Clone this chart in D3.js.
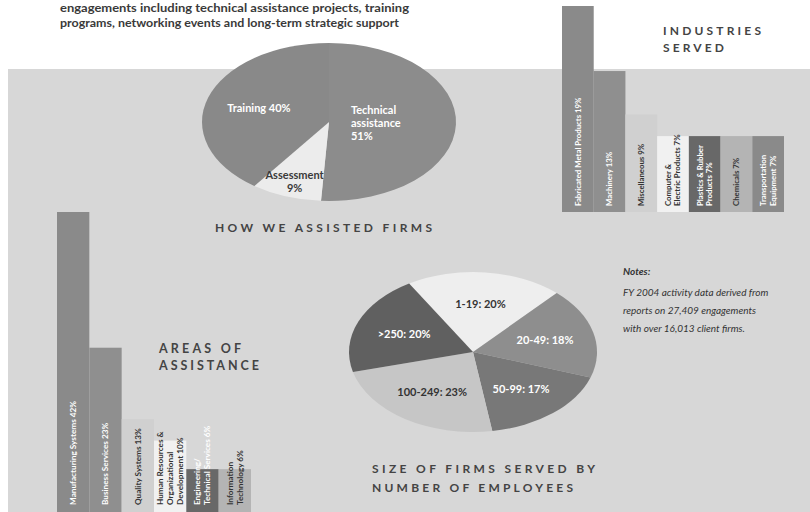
<!DOCTYPE html>
<html><head><meta charset="utf-8">
<script src="https://cdn.jsdelivr.net/npm/d3@7"></script>
<style>
html,body{margin:0;padding:0;background:#fff;}
svg{display:block;font-family:Lato,"Open Sans","DejaVu Sans",sans-serif;}
</style></head>
<body>
<svg id="chart" width="810" height="512"></svg>
<script>
// ---------- data ----------
const headerLines = [
  "engagements including technical assistance projects, training",
  "programs, networking events and long-term strategic support"
];
const assistLabels = [["Technical","assistance","51%"], ["Assessment","9%"], ["Training 40%"]];
const assistValues = [51, 9, 40];

const industryLabels = [
  ["Fabricated Metal Products 19%"], ["Machinery 13%"], ["Miscellaneous 9%"],
  ["Computer &","Electric Products 7%"], ["Plastics & Rubber","Products 7%"],
  ["Chemicals 7%"], ["Transportation","Equipment 7%"]
];
const industryValues = [19, 13, 9, 7, 7, 7, 7];

const areaLabels = [
  ["Manufacturing Systems 42%"], ["Business Services 23%"], ["Quality Systems 13%"],
  ["Human Resources &","Organizational","Development 10%"],
  ["Engineering/","Technical Services 6%"], ["Information","Technology 6%"]
];
const areaValues = [42, 23, 13, 10, 6, 6];

const sizeLabels = ["1-19: 20%", "20-49: 18%", "50-99: 17%", "100-249: 23%", ">250: 20%"];
const sizeValues = [20, 18, 17, 23, 20];

const notesLines = ["FY 2004 activity data derived from", "reports on 27,409 engagements", "with over 16,013 client firms."];

// ---------- styles ----------
const assistFill = ["#8c8c8c", "#ececec", "#898989"];
const assistText = ["#ffffff", "#3a3a3a", "#ffffff"];
const indFill = ["#8a8a8a","#8f8f8f","#d0d0d0","#f1f1f1","#686868","#b4b4b4","#8a8a8a"];
const indText = ["#fff","#fff","#333","#333","#fff","#333","#fff"];
const areaFill = ["#8a8a8a","#8f8f8f","#d0d0d0","#f1f1f1","#686868","#b4b4b4"];
const areaText = ["#fff","#fff","#333","#333","#fff","#333"];
const sizeFill = ["#eeeeee","#8e8e8e","#787878","#c6c6c6","#606060"];
const sizeText = ["#333","#fff","#fff","#333","#fff"];

const svg = d3.select("#chart");

// background panel
svg.append("rect").attr("x", 8).attr("y", 69).attr("width", 802).attr("height", 443).attr("fill", "#d7d7d7");

// header text
svg.append("g").selectAll("text").data(headerLines).join("text")
  .attr("x", 60).attr("y", (d, i) => 12 + i * 15)
  .attr("font-size", 12).attr("font-weight", 700).attr("fill", "#3a3a3a")
  .attr("textLength", (d, i) => i === 0 ? 349 : 339).attr("lengthAdjust", "spacingAndGlyphs")
  .text(d => d);

// ---------- pie helper (elliptical) ----------
function ellipsePie(cx, cy, rx, ry, values, fills, startAngle) {
  const pie = d3.pie().sort(null).value(d => d).startAngle(startAngle).endAngle(startAngle + 2 * Math.PI);
  const arcs = pie(values);
  const arc = d3.arc().innerRadius(0).outerRadius(ry);
  const g = svg.append("g").attr("transform", `translate(${cx},${cy}) scale(${rx / ry},1)`);
  g.selectAll("path").data(arcs).join("path")
    .attr("d", arc).attr("fill", (d, i) => fills[i]).attr("stroke", "none");
  return (i, k) => {
    const a = (arcs[i].startAngle + arcs[i].endAngle) / 2;
    return [cx + rx * k * Math.sin(a), cy - ry * k * Math.cos(a)];
  };
}

// ---------- top pie: How we assisted firms ----------
const topPos = ellipsePie(329, 122, 127, 79, assistValues, assistFill, 0);
const topK = [0.33, 0.8, 0.58];
const topAnchor = ["start", "middle", "middle"];
assistLabels.forEach((lines, i) => {
  let [x, y] = topPos(i, topK[i]);
  if (i === 0) x = x - 20;
  const t = svg.append("text").attr("font-size", 11).attr("font-weight", 700)
    .attr("fill", assistText[i]).attr("text-anchor", topAnchor[i]);
  const n = lines.length;
  lines.forEach((l, j) => {
    t.append("tspan").attr("x", x).attr("y", y + 4 + (j - (n - 1) / 2) * 13).text(l);
  });
});

svg.append("text").attr("x", 215).attr("y", 232).attr("font-size", 12).attr("font-weight", 700)
  .attr("fill", "#444").attr("textLength", 217).attr("lengthAdjust", "spacing")
  .text("HOW WE ASSISTED FIRMS");

// ---------- vertical bar helper ----------
function bars(x0, x1, yBase, yTop, maxV, values, labels, fills, texts, fontSize, labelStart) {
  const x = d3.scaleBand().domain(d3.range(values.length)).range([x0, x1]).padding(0);
  const y = d3.scaleLinear().domain([0, maxV]).range([yBase, yTop]);
  const g = svg.append("g");
  g.selectAll("rect").data(values).join("rect")
    .attr("x", (d, i) => x(i)).attr("width", x.bandwidth())
    .attr("y", d => y(d)).attr("height", d => y(0) - y(d))
    .attr("fill", (d, i) => fills[i]);
  labels.forEach((lines, i) => {
    const cx = x(i) + x.bandwidth() / 2;
    const lh = fontSize * 1.2;
    const t = g.append("text")
      .attr("transform", `translate(${cx},${labelStart}) rotate(-90)`)
      .attr("font-size", fontSize).attr("font-weight", 700).attr("fill", texts[i]);
    const n = lines.length;
    lines.forEach((l, j) => {
      t.append("tspan").attr("x", 0).attr("y", (j - (n - 1) / 2) * lh + fontSize * 0.35).text(l);
    });
  });
}

// ---------- Industries served ----------
bars(562, 784, 212, 6, 19, industryValues, industryLabels, indFill, indText, 7.8, 206);
svg.append("g").selectAll("text").data(["INDUSTRIES", "SERVED"]).join("text")
  .attr("x", 663).attr("y", (d, i) => 35 + i * 17)
  .attr("font-size", 12).attr("font-weight", 700).attr("fill", "#444")
  .attr("textLength", (d, i) => i === 0 ? 98 : 61).attr("lengthAdjust", "spacing")
  .text(d => d);

// ---------- Areas of assistance ----------
bars(57, 251, 512, 212, 42, areaValues, areaLabels, areaFill, areaText, 8.2, 505);
svg.append("g").selectAll("text").data(["AREAS OF", "ASSISTANCE"]).join("text")
  .attr("x", 159).attr("y", (d, i) => 353 + i * 17)
  .attr("font-size", 12.5).attr("font-weight", 700).attr("fill", "#444")
  .attr("textLength", (d, i) => i === 0 ? 82 : 100).attr("lengthAdjust", "spacing")
  .text(d => d);

// ---------- bottom pie: size of firms ----------
const botPos = ellipsePie(473, 352, 124, 80, sizeValues, sizeFill, -31 * Math.PI / 180);
sizeLabels.forEach((l, i) => {
  const [x, y] = botPos(i, 0.6);
  svg.append("text").attr("x", x).attr("y", y + 4).attr("text-anchor", "middle")
    .attr("font-size", 11).attr("font-weight", 700).attr("fill", sizeText[i]).text(l);
});
svg.append("g").selectAll("text").data(["SIZE OF FIRMS SERVED BY", "NUMBER OF EMPLOYEES"]).join("text")
  .attr("x", 372).attr("y", (d, i) => 473 + i * 19)
  .attr("font-size", 12).attr("font-weight", 700).attr("fill", "#444")
  .attr("textLength", (d, i) => i === 0 ? 223 : 201).attr("lengthAdjust", "spacing")
  .text(d => d);

// ---------- notes ----------
svg.append("text").attr("x", 623).attr("y", 275).attr("font-size", 10).attr("font-weight", 700)
  .attr("font-style", "italic").attr("fill", "#333").text("Notes:");
svg.append("g").selectAll("text").data(notesLines).join("text")
  .attr("x", 623).attr("y", (d, i) => 296 + i * 18)
  .attr("font-size", 10).attr("font-style", "italic").attr("fill", "#333")
  .text(d => d);
</script>
</body></html>
